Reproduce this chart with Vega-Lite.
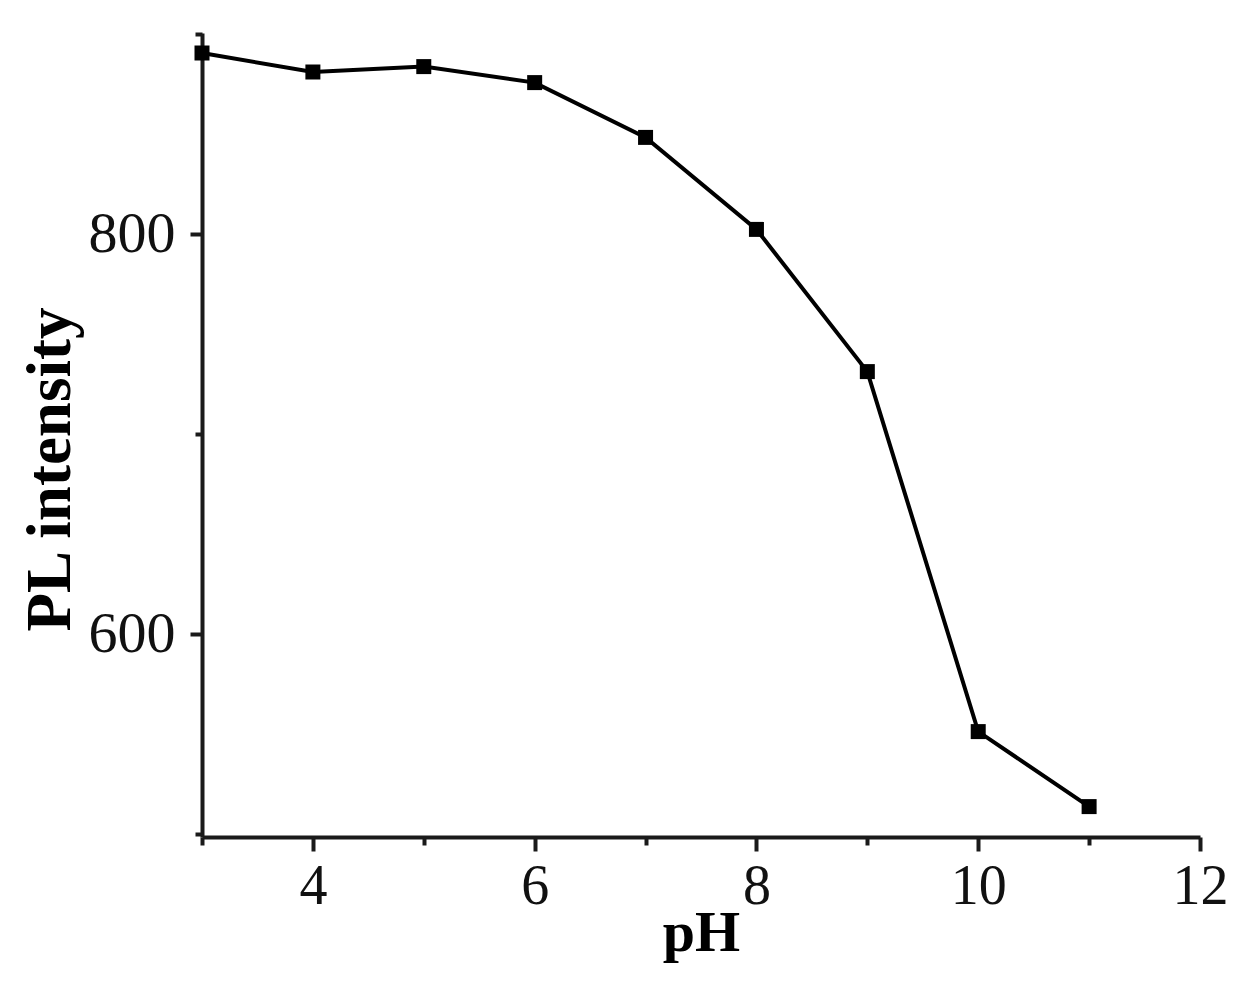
{
  "$schema": "https://vega.github.io/schema/vega-lite/v6.json",
  "autosize": "none",
  "width": 998,
  "height": 804,
  "padding": {"left": 202, "top": 33, "right": 49, "bottom": 147},
  "background": "white",
  "config": {
    "view": {"stroke": null},
    "font": "Liberation Serif"
  },
  "data": {
    "values": [
      {"pH": 3, "PL": 890.5},
      {"pH": 4, "PL": 881},
      {"pH": 5, "PL": 883.7},
      {"pH": 6, "PL": 875.7},
      {"pH": 7, "PL": 848.3},
      {"pH": 8, "PL": 802.3},
      {"pH": 9, "PL": 731.2},
      {"pH": 10, "PL": 551.2},
      {"pH": 11, "PL": 513.7}
    ]
  },
  "encoding": {
    "x": {
      "field": "pH",
      "type": "quantitative",
      "scale": {"domain": [3, 12], "nice": false, "zero": false},
      "axis": {
        "title": "pH",
        "values": [3, 4, 5, 6, 7, 8, 9, 10, 11, 12],
        "labelExpr": "(datum.value % 2 == 0) ? datum.label : ''",
        "grid": false,
        "domainColor": "#1a1a1a",
        "domainWidth": 4,
        "tickColor": "#1a1a1a",
        "tickWidth": 4,
        "tickSize": {"condition": {"test": "datum.value % 2 == 0", "value": 14}, "value": 8},
        "labelFont": "Liberation Serif",
        "labelFontSize": 56,
        "labelColor": "#111",
        "labelPadding": 8,
        "labelFlush": false,
        "titleFont": "Liberation Serif",
        "titleFontSize": 58,
        "titleFontWeight": "bold",
        "titleColor": "#000",
        "titlePadding": -10
      }
    },
    "y": {
      "field": "PL",
      "type": "quantitative",
      "scale": {"domain": [498.5, 900.5], "nice": false, "zero": false},
      "axis": {
        "title": "PL intensity",
        "values": [500, 600, 700, 800, 900],
        "labelExpr": "(datum.value == 600 || datum.value == 800) ? datum.label : ''",
        "grid": false,
        "domainColor": "#1a1a1a",
        "domainWidth": 4,
        "tickColor": "#1a1a1a",
        "tickWidth": 4,
        "tickSize": {"condition": {"test": "datum.value == 600 || datum.value == 800", "value": 12}, "value": 7},
        "labelFont": "Liberation Serif",
        "labelFontSize": 58,
        "labelColor": "#111",
        "labelPadding": 15,
        "labelFlush": false,
        "titleFont": "Liberation Serif",
        "titleFontSize": 63,
        "titleFontWeight": "bold",
        "titleColor": "#000",
        "titlePadding": 6,
        "titleY": 436
      }
    }
  },
  "layer": [
    {
      "mark": {"type": "line", "color": "#000", "strokeWidth": 4}
    },
    {
      "mark": {"type": "point", "shape": "square", "filled": true, "color": "#000", "opacity": 1, "size": 225}
    }
  ]
}
